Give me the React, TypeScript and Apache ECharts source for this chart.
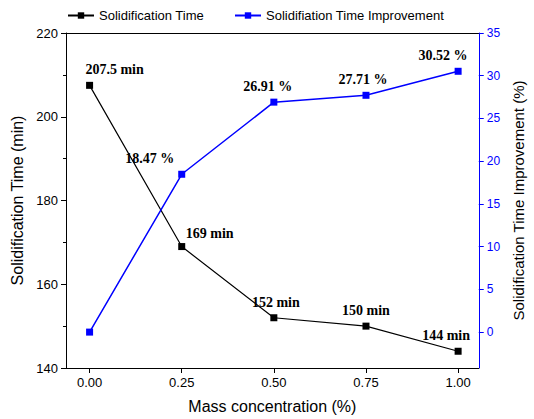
import React, { useEffect, useRef } from "react";
import * as echarts from "echarts";

const conc = [0, 0.25, 0.5, 0.75, 1.0];
const timeVals = [207.5, 169, 152, 150, 144];
const timeLabels = ["207.5 min", "169 min", "152 min", "150 min", "144 min"];
const impVals = [0, 18.47, 26.91, 27.71, 30.52];
const impLabels = ["", "18.47 %", "26.91 %", "27.71 %", "30.52 %"];
const xTicks = [0, 0.25, 0.5, 0.75, 1.0];
const rTicks = [0, 5, 10, 15, 20, 25, 30, 35];

const timeOffsets = [[25, 0], [28, 2], [2, 0], [0, 0], [-12, 0]];
const impOffsets = [[0, 0], [-32, 0], [-6, 0], [-3, 0], [-15, 0]];

export default function App() {
  const ref = useRef<HTMLDivElement>(null);
  useEffect(() => {
    const chart = echarts.init(ref.current!, null, { renderer: "svg" });
    const lblStyle = { fontFamily: "Liberation Serif", fontWeight: "bold", fontSize: 14, color: "#000" };
    chart.setOption({
      animation: false,
      grid: { left: 66, right: 50, top: 33, bottom: 51 },
      legend: {
        top: 4, left: 62, itemGap: 30, itemWidth: 26, itemHeight: 8,
        textStyle: { fontFamily: "Liberation Sans", fontSize: 13, color: "#000" },
        data: ["Solidification Time", "Solidifiation Time Improvement"],
      },
      xAxis: [
        {
          type: "value", min: -0.064, max: 1.056,
          name: "Mass concentration (%)", nameLocation: "middle", nameGap: 30,
          nameTextStyle: { fontFamily: "Liberation Sans", fontSize: 16, color: "#000" },
          axisLine: { onZero: false, lineStyle: { color: "#000" } },
          axisTick: { customValues: xTicks, lineStyle: { color: "#000" } },
          axisLabel: { customValues: xTicks, formatter: (v: number) => v.toFixed(2), fontFamily: "Liberation Sans", fontSize: 13, color: "#000" },
          splitLine: { show: false },
        },
        {
          type: "value", min: -0.064, max: 1.056, position: "top",
          axisLine: { onZero: false, lineStyle: { color: "#000" } },
          axisTick: { show: false }, axisLabel: { show: false }, splitLine: { show: false },
        },
      ],
      yAxis: [
        {
          type: "value", min: 140, max: 220, interval: 20,
          name: "Solidification Time (min)", nameLocation: "middle", nameGap: 40,
          nameTextStyle: { fontFamily: "Liberation Sans", fontSize: 16, color: "#000" },
          axisLine: { show: true, onZero: false, lineStyle: { color: "#000" } },
          axisTick: { show: true, lineStyle: { color: "#000" } },
          minorTick: { show: true, splitNumber: 2, lineStyle: { color: "#000" } },
          axisLabel: { fontFamily: "Liberation Sans", fontSize: 13, color: "#000" },
          splitLine: { show: false },
        },
        {
          type: "value", min: -4.2, max: 35, position: "right",
          name: "Solidification Time Improvement (%)", nameLocation: "middle", nameGap: 30, nameRotate: 90,
          nameTextStyle: { fontFamily: "Liberation Sans", fontSize: 15, color: "#000" },
          axisLine: { show: true, onZero: false, lineStyle: { color: "#0000ff" } },
          axisTick: { show: true, customValues: rTicks, lineStyle: { color: "#0000ff" } },
          axisLabel: { customValues: rTicks, fontFamily: "Liberation Sans", fontSize: 12, color: "#0000ff" },
          splitLine: { show: false },
        },
      ],
      series: [
        {
          name: "Solidification Time", type: "line", xAxisIndex: 0, yAxisIndex: 0,
          symbol: "rect", symbolSize: 7, color: "#000", lineStyle: { color: "#000", width: 1.2 },
          data: conc.map((c, i) => ({
            value: [c, timeVals[i]],
            label: { show: true, position: "top", formatter: timeLabels[i], offset: timeOffsets[i], ...lblStyle },
          })),
        },
        {
          name: "Solidifiation Time Improvement", type: "line", xAxisIndex: 0, yAxisIndex: 1,
          symbol: "rect", symbolSize: 7, color: "#0000ff", lineStyle: { color: "#0000ff", width: 1.5 },
          data: conc.map((c, i) => ({
            value: [c, impVals[i]],
            label: { show: impLabels[i] !== "", position: "top", formatter: impLabels[i], offset: impOffsets[i], ...lblStyle },
          })),
        },
      ],
    });
    return () => chart.dispose();
  }, []);
  return <div ref={ref} style={{ width: 534, height: 419, position: "absolute", left: 0, top: 0 }} />;
}
